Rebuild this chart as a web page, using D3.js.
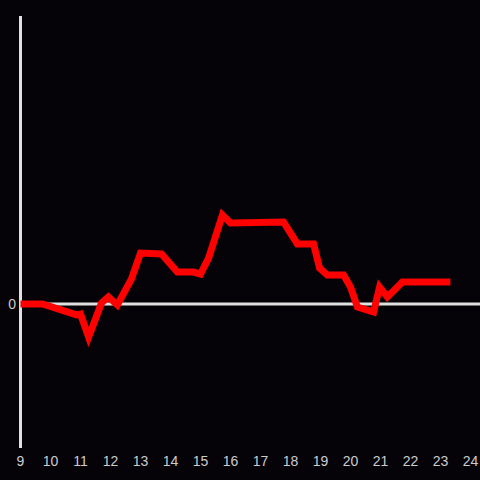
<!DOCTYPE html>
<html><head><meta charset="utf-8">
<script src="https://cdn.jsdelivr.net/npm/d3@7"></script>
<style>html,body{margin:0;padding:0;background:#050308;}svg{display:block;}</style>
</head><body>
<script>
const hours = [9, 9.73, 10.87, 11.0, 11.27, 11.7, 11.93, 12.23, 12.7, 13.0, 13.7, 14.23, 14.77, 15.0, 15.27, 15.73, 16.0, 17.77, 18.23, 18.77, 18.97, 19.23, 19.77, 20.0, 20.23, 20.77, 20.97, 21.23, 21.73, 23.33];
const values = [0, 0, -0.076, -0.07, -0.229, 0.007, 0.049, -0.007, 0.174, 0.354, 0.347, 0.222, 0.222, 0.208, 0.319, 0.618, 0.562, 0.569, 0.417, 0.417, 0.25, 0.201, 0.201, 0.118, -0.021, -0.056, 0.118, 0.049, 0.153, 0.153];
const xTicks = [9,10,11,12,13,14,15,16,17,18,19,20,21,22,23,24];
const yTicks = [0];

const W = 480, H = 480;
const svg = d3.select("body").append("svg").attr("width", W).attr("height", H);
svg.append("rect").attr("width", W).attr("height", H).attr("fill", "#050308");

const x = d3.scaleLinear().domain([9, 24]).range([20.5, 470.5]);
const y = d3.scaleLinear().domain([-1, 2]).range([448, 16]);

// y axis line
svg.append("line").attr("x1", 20.5).attr("x2", 20.5).attr("y1", y(2)).attr("y2", y(-1))
  .attr("stroke", "#e0e0e0").attr("stroke-width", 3);
// zero line
svg.append("line").attr("x1", 20).attr("x2", W).attr("y1", y(0)).attr("y2", y(0))
  .attr("stroke", "#e0e0e0").attr("stroke-width", 3);

// x tick labels
svg.append("g").selectAll("text").data(xTicks).join("text")
  .attr("x", d => x(d)).attr("y", 466)
  .attr("text-anchor", "middle")
  .attr("font-family", "Liberation Sans, Arial, sans-serif").attr("font-size", 14)
  .attr("fill", "#cccccc").text(d => d);

// y tick labels
svg.append("g").selectAll("text").data(yTicks).join("text")
  .attr("x", 16).attr("y", d => y(d) + 5)
  .attr("text-anchor", "end")
  .attr("font-family", "Liberation Sans, Arial, sans-serif").attr("font-size", 14)
  .attr("fill", "#cccccc").text(d => d);

const data = hours.map((h, i) => [h, values[i]]);
const line = d3.line().x(d => x(d[0])).y(d => y(d[1]));
svg.append("path").datum(data).attr("d", line)
  .attr("fill", "none").attr("stroke", "#ff0000").attr("stroke-width", 7)
  .attr("stroke-linejoin", "miter").attr("stroke-linecap", "butt");
</script>
</body></html>
